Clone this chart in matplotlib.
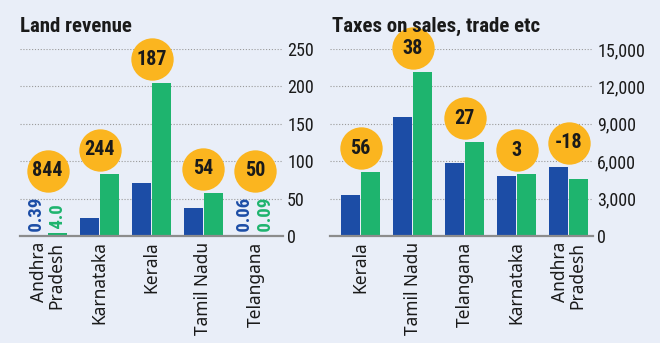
import matplotlib
matplotlib.use('Agg')
from matplotlib import pyplot as plt
from matplotlib import font_manager
from matplotlib.transforms import offset_copy
import numpy as np

# data
land_states = ['Andhra\nPradesh', 'Karnataka', 'Kerala', 'Tamil Nadu', 'Telangana']
land_blue = [0.39, 24, 71, 38, 0.06]
land_green = [4.0, 83, 204, 58, 0.09]
land_change = ['844', '244', '187', '54', '50']
land_ticks = [0, 50, 100, 150, 200, 250]

tax_states = ['Kerala', 'Tamil Nadu', 'Telangana', 'Karnataka', 'Andhra\nPradesh']
tax_blue = [3290, 9520, 5880, 4790, 5535]
tax_green = [5110, 13130, 7515, 4950, 4545]
tax_change = ['56', '38', '27', '3', '-18']
tax_ticks = [0, 3000, 6000, 9000, 12000, 15000]

BG = '#E9EEF8'
BLUE = '#1C4DA6'
GREEN = '#1EB46E'
ORANGE = '#FBB51F'
TXT = '#1a1a1a'

# pick a narrow font if there is one
names = {f.name for f in font_manager.fontManager.ttflist}
COND = dict(family='Roboto')
for cand in ['Liberation Sans Narrow', 'Roboto Condensed', 'Open Sans Condensed']:
    if cand in names:
        COND = dict(family=cand)
        break

fig = plt.figure(figsize=(6.6, 3.43), dpi=100, facecolor=BG)

W, H = 660, 343


def panel(x0, x1, first, states, blue, green, change, ticks, small_labels, fmt, floor):
    ax = fig.add_axes([x0 / W, (H - 236) / H, (x1 - x0) / W, (236 - 49) / H])
    ax.set_facecolor(BG)
    idx = np.arange(len(states))
    bw = 0.365
    ax.bar(idx - 0.2, blue, bw, color=BLUE, zorder=3)
    ax.bar(idx + 0.2, green, bw, color=GREEN, zorder=3)
    ax.set_ylim(0, ticks[-1])
    ax.set_yticks(ticks)
    ax.set_yticklabels([fmt(t) for t in ticks], fontsize=13, color=TXT, **COND)
    ax.yaxis.tick_right()
    ax.tick_params(axis='y', length=0, pad=3)
    ax.tick_params(axis='x', length=0, pad=4)
    ax.set_xticks(idx)
    ax.set_xticklabels(states, rotation=90, fontsize=12.5, color=TXT,
                       family='Noto Sans', multialignment='right',
                       linespacing=0.95)
    for s in ax.spines.values():
        s.set_visible(False)
    ax.yaxis.grid(True, linestyle=(0, (1, 1.6)), color='#9a9a9a', lw=0.8, zorder=0)
    ax.axhline(0, color='#8c8c8c', lw=1.6, zorder=4, clip_on=False)

    # rotated value labels for the tiny bars
    for i in small_labels:
        for dx, v, c in ((-0.2, blue[i], BLUE), (0.2, green[i], GREEN)):
            lab = '4.0' if v == 4.0 else '%g' % v
            ax.text(i + dx, v, ' ' + lab, rotation=90,
                    ha='center', va='bottom', color=c, fontsize=13.5,
                    fontweight='bold', zorder=5, **COND)

    # orange circles with % change
    tr = offset_copy(ax.transData, fig=fig, y=24, units='dots')
    for i in idx:
        top = max(blue[i], green[i], floor if i in small_labels else 0)
        ax.plot(i, top, 'o', ms=30.5, color=ORANGE, mec='none',
                transform=tr, clip_on=False, zorder=6)
        ax.text(i, top, change[i], transform=tr, ha='center', va='center',
                fontsize=14.5, fontweight='bold', color=TXT, zorder=7,
                clip_on=False, **COND)
    ax.set_xlim((x0 - first) / 52, (x1 - first) / 52)
    return ax


panel(20, 283, 47.5, land_states, land_blue, land_green, land_change, land_ticks,
      [0, 4], lambda t: '%d' % t, 55)
panel(330, 593, 360.5, tax_states, tax_blue, tax_green, tax_change, tax_ticks,
      [], lambda t: '{:,}'.format(t), 0)

fig.text(20 / W, (H - 32) / H, 'Land revenue', fontsize=15, fontweight='bold',
         color=TXT, ha='left', va='baseline', **COND)
fig.text(332 / W, (H - 32) / H, 'Taxes on sales, trade etc', fontsize=15,
         fontweight='bold', color=TXT, ha='left', va='baseline', **COND)

fig.savefig('out.png', dpi=100, facecolor=BG)
